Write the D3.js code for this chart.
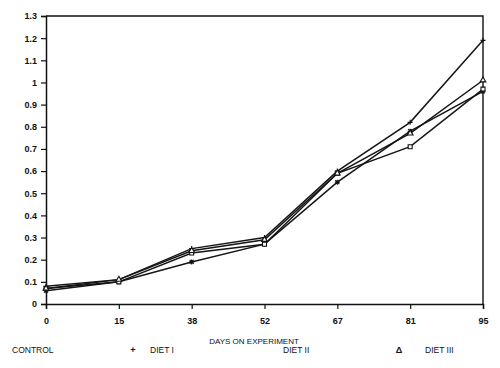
<!doctype html>
<html lang="en">
<head>
<meta charset="utf-8">
<title>Days on experiment</title>
<style>
  body { margin: 0; background: #fff; }
  svg text { font-family: "Liberation Sans", Arial, sans-serif; fill: #111; }
</style>
</head>
<body>
<svg id="chart"></svg>
<script src="https://cdn.jsdelivr.net/npm/d3@7"></script>
<script>
// data
var days = ["0", "15", "38", "52", "67", "81", "95"];
var yTicks = [0, 0.1, 0.2, 0.3, 0.4, 0.5, 0.6, 0.7, 0.8, 0.9, 1, 1.1, 1.2, 1.3];
var control = [0.06, 0.10, 0.19, 0.27, 0.55, 0.78, 0.96];
var diet1   = [0.08, 0.11, 0.25, 0.30, 0.60, 0.82, 1.19];
var diet2   = [0.07, 0.10, 0.23, 0.27, 0.59, 0.71, 0.97];
var diet3   = [0.07, 0.11, 0.24, 0.29, 0.59, 0.77, 1.01];
var seriesNames = ["CONTROL", "DIET I", "DIET II", "DIET III"];

var W = 500, H = 368;
var margin = {top: 16, right: 17, bottom: 64, left: 46};
var width = W - margin.left - margin.right,
    height = H - margin.top - margin.bottom;

var svg = d3.select("#chart").attr("width", W).attr("height", H);
var g = svg.append("g").attr("transform", "translate(" + margin.left + "," + margin.top + ")");

var x = d3.scalePoint().domain(days).range([0, width]);
var y = d3.scaleLinear().domain([0, 1.3]).range([height, 0]);

// frame: top and right sides
g.append("path")
  .attr("d", "M0,0H" + width + "V" + height)
  .attr("fill", "none").attr("stroke", "#111").attr("stroke-width", 1.4);

var yAxis = g.append("g")
  .call(d3.axisLeft(y).tickValues(yTicks).tickSize(5).tickPadding(4)
    .tickFormat(function(d){ return d3.format("~g")(d); }));
var xAxis = g.append("g")
  .attr("transform", "translate(0," + height + ")")
  .call(d3.axisBottom(x).tickSize(5).tickPadding(9));
[yAxis, xAxis].forEach(function(a){
  a.select(".domain").attr("stroke", "#111").attr("stroke-width", 1.5);
  a.selectAll(".tick line").attr("stroke", "#111").attr("stroke-width", 1.2);
  a.selectAll("text").attr("font-size", 9).attr("font-weight", "bold").attr("fill", "#111");
});

var series = [
  {name: seriesNames[0], values: control, sym: "star"},
  {name: seriesNames[1], values: diet1, sym: "plus"},
  {name: seriesNames[2], values: diet2, sym: "square"},
  {name: seriesNames[3], values: diet3, sym: "triangle"}
];

var line = d3.line()
  .x(function(d, i){ return x(days[i]); })
  .y(function(d){ return y(d); });

g.selectAll(".series").data(series).enter()
  .append("path").attr("class", "series")
  .attr("d", function(s){ return line(s.values); })
  .attr("fill", "none").attr("stroke", "#151515").attr("stroke-width", 1.5);

var symbols = {
  square: d3.symbol().type(d3.symbolSquare).size(16),
  triangle: d3.symbol().type(d3.symbolTriangle).size(14)
};

series.forEach(function(s){
  g.append("g").selectAll("path").data(s.values).enter()
    .append("path")
    .attr("transform", function(d, i){ return "translate(" + x(days[i]) + "," + y(d) + ")"; })
    .attr("d", function(){
      if (s.sym === "plus") return "M-2.5,0H2.5M0,-2.5V2.5";
      if (s.sym === "star") return "M-2.5,0H2.5M0,-2.5V2.5M-2,-2L2,2M-2,2L2,-2";
      return symbols[s.sym]();
    })
    .attr("fill", "#fff").attr("stroke", "#111").attr("stroke-width", 1.1);
});

// axis title
svg.append("text")
  .attr("x", 254).attr("y", 344)
  .attr("text-anchor", "middle").attr("font-size", 8)
  .text("DAYS ON EXPERIMENT");

// legend row
var legendY = 353;
var legend = [
  {label: seriesNames[0], mark: "", mx: 0, tx: 12},
  {label: seriesNames[1], mark: "+", mx: 133, tx: 150},
  {label: seriesNames[2], mark: "", mx: 0, tx: 283},
  {label: seriesNames[3], mark: "\u0394", mx: 399, tx: 425}
];
legend.forEach(function(l){
  if (l.mark) {
    svg.append("text").attr("x", l.mx).attr("y", legendY)
      .attr("text-anchor", "middle").attr("font-size", 9).attr("font-weight", "bold")
      .text(l.mark);
  }
  svg.append("text").attr("x", l.tx).attr("y", legendY)
    .attr("font-size", 8.5).text(l.label);
});
</script>
</body>
</html>
